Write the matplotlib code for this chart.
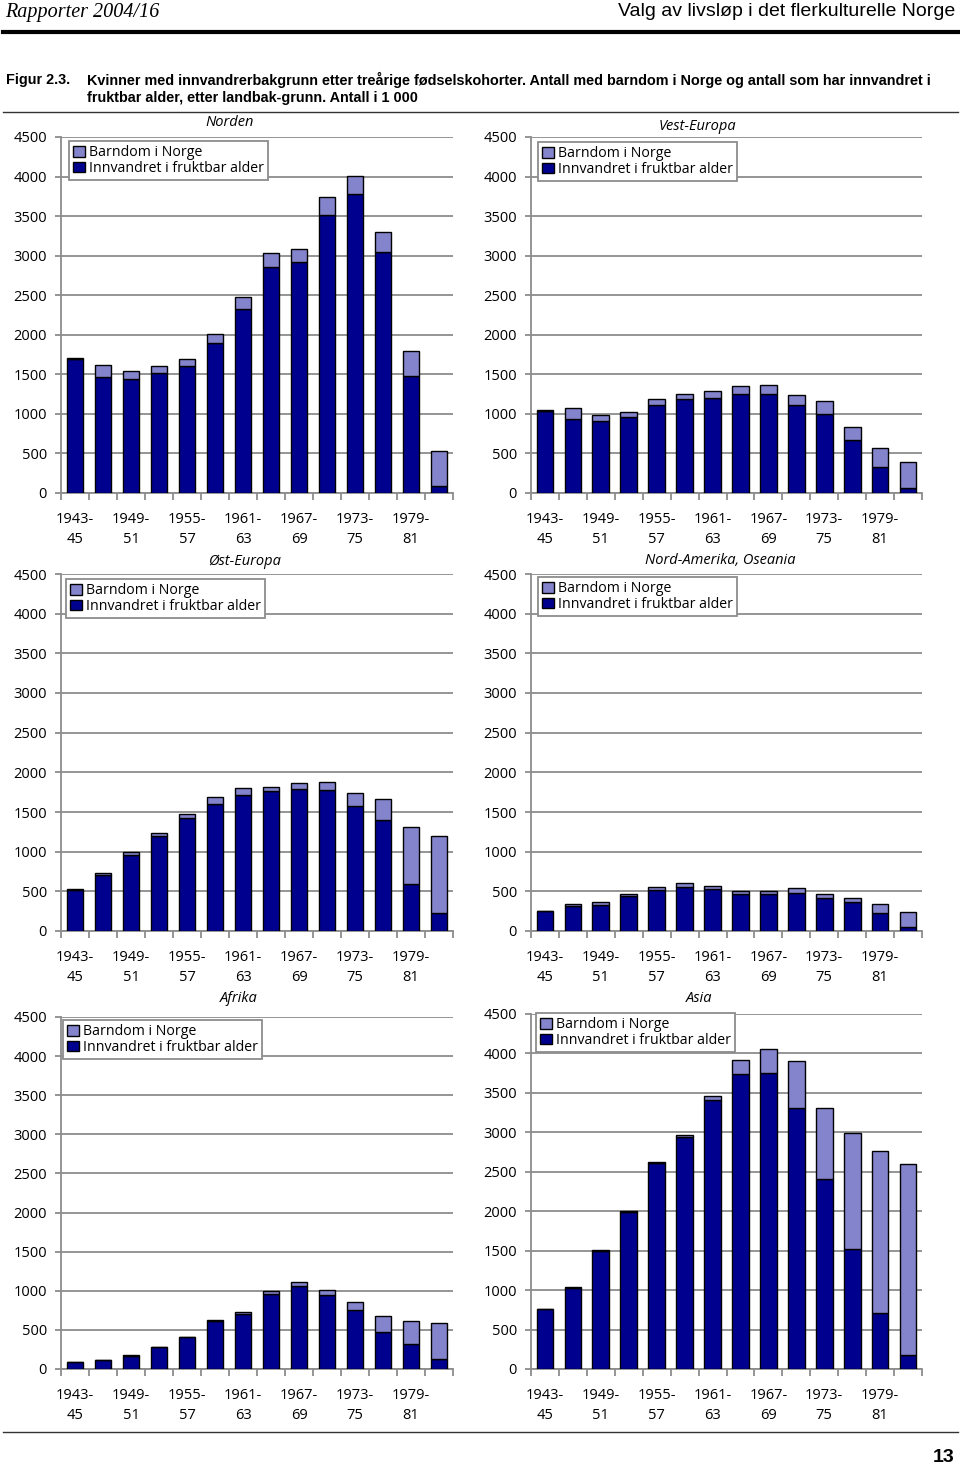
import numpy as np
import matplotlib
matplotlib.use("Agg")
import matplotlib.pyplot as plt
from matplotlib.patches import Patch
from matplotlib.lines import Line2D

plt.rcParams['font.family'] = ['Open Sans', 'DejaVu Sans']

W, H = 960, 1469

#%% data (antall i 1 000)
cohorts = ['1943-\n45', '1946-\n48', '1949-\n51', '1952-\n54', '1955-\n57', '1958-\n60',
           '1961-\n63', '1964-\n66', '1967-\n69', '1970-\n72', '1973-\n75', '1976-\n78',
           '1979-\n81', '1982-\n84']

norden_inn = [1700, 1470, 1440, 1520, 1600, 1890, 2325, 2860, 2915, 3520, 3775, 3050, 1480, 85]
norden_barn = [10, 145, 100, 80, 90, 120, 150, 180, 175, 225, 235, 250, 320, 440]

vest_inn = [1040, 940, 915, 965, 1110, 1190, 1205, 1250, 1250, 1115, 1000, 665, 325, 60]
vest_barn = [5, 140, 70, 65, 75, 65, 80, 105, 110, 125, 165, 165, 240, 335]

ost_inn = [520, 700, 960, 1195, 1430, 1595, 1710, 1760, 1785, 1775, 1570, 1400, 590, 230]
ost_barn = [5, 35, 30, 40, 50, 95, 95, 60, 85, 105, 165, 265, 720, 965]

amer_inn = [250, 310, 325, 435, 520, 560, 525, 465, 470, 485, 420, 360, 230, 45]
amer_barn = [2, 30, 35, 35, 30, 40, 45, 45, 40, 55, 45, 60, 110, 195]

afrika_inn = [85, 115, 170, 275, 410, 620, 705, 955, 1060, 950, 755, 475, 320, 125]
afrika_barn = [2, 2, 5, 5, 5, 10, 30, 45, 50, 60, 100, 200, 295, 465]

asia_inn = [760, 1030, 1500, 1995, 2615, 2940, 3410, 3740, 3750, 3305, 2405, 1520, 710, 180]
asia_barn = [2, 5, 5, 5, 10, 20, 50, 180, 300, 595, 905, 1475, 2055, 2420]

c_barn = '#8484cc'
c_inn = '#00008f'
grey = '#8c8c8c'
narrow = ['Liberation Sans', 'DejaVu Sans']

fig = plt.figure(figsize=(W / 100, H / 100), dpi=100)

# panel boxes in pixels: left, right, top (4500), bottom (0), title x, title y, legend left, legend top
panels = [
    ('Norden', norden_inn, norden_barn, 61, 453, 137, 493, 230, 123, 69, 141),
    ('Vest-Europa', vest_inn, vest_barn, 531, 922, 137, 493, 697, 126, 538, 142),
    ('Øst-Europa', ost_inn, ost_barn, 61, 453, 574, 931, 245, 562, 66, 579),
    ('Nord-Amerika, Oseania', amer_inn, amer_barn, 531, 922, 574, 931, 720, 561, 538, 577),
    ('Afrika', afrika_inn, afrika_barn, 61, 453, 1017, 1369, 239, 999, 63, 1020),
    ('Asia', asia_inn, asia_barn, 531, 922, 1014, 1369, 699, 999, 536, 1013),
]

x = np.arange(len(cohorts))
for name, inn, barn, l, r, t, b, tx, ty, lx, ly in panels:
    ax = fig.add_axes([l / W, 1 - b / H, (r - l) / W, (b - t) / H])
    ax.bar(x, inn, width=0.6, color=c_inn, edgecolor='black', linewidth=1, zorder=3)
    ax.bar(x, barn, width=0.6, bottom=inn, color=c_barn, edgecolor='black', linewidth=1, zorder=3)
    ax.set_xlim(-0.5, len(cohorts) - 0.5)
    ax.set_ylim(0, 4500)
    ax.set_yticks(np.arange(0, 4501, 500))
    ax.yaxis.grid(True, color=grey, linewidth=1.3, zorder=0)
    ax.set_axisbelow(True)
    for s in ['top', 'right']:
        ax.spines[s].set_visible(False)
    for s in ['left', 'bottom']:
        ax.spines[s].set_color(grey)
        ax.spines[s].set_linewidth(1.3)
    # category boundaries as ticks, labels on every other bar
    ax.set_xticks(np.arange(-0.5, len(cohorts), 1))
    ax.set_xticklabels([])
    ax.set_xticks(x[::2], minor=True)
    ax.set_xticklabels(cohorts[::2], minor=True, fontsize=10.5, linespacing=1.45)
    ax.tick_params(axis='x', which='major', length=5, width=1.3, color=grey, direction='out')
    ax.tick_params(axis='x', which='minor', length=0, pad=14)
    ax.tick_params(axis='y', length=4, width=1.3, color=grey, labelsize=10.5, pad=6)
    fig.text(tx / W, 1 - ty / H, name, ha='center', va='center', style='italic', fontsize=10.5)
    handles = [Patch(facecolor=c_barn, edgecolor='black', linewidth=1),
               Patch(facecolor=c_inn, edgecolor='black', linewidth=1)]
    leg = ax.legend(handles, ['Barndom i Norge', 'Innvandret i fruktbar alder'],
                    loc='upper left', bbox_to_anchor=((lx - l) / (r - l), 1 - (ly - t) / (b - t)),
                    borderaxespad=0, fancybox=False, framealpha=1, edgecolor=grey,
                    fontsize=10.2, handlelength=0.8, handleheight=0.8, handletextpad=0.3,
                    labelspacing=0.05, borderpad=0.3)
    leg.get_frame().set_linewidth(1.3)

# page header, caption and footer
fig.text(5 / W, 1 - 12 / H, 'Rapporter 2004/16', ha='left', va='center', style='italic',
         family=['Liberation Serif', 'DejaVu Serif'], fontsize=14.5)
fig.text(955 / W, 1 - 12 / H, 'Valg av livsløp i det flerkulturelle Norge', ha='right', va='center',
         family=narrow, fontsize=14)
fig.add_artist(Line2D([3 / W, 958 / W], [1 - 32 / H, 1 - 32 / H], color='black', linewidth=3))
fig.text(6 / W, 1 - 80 / H, 'Figur 2.3.', ha='left', va='center', weight='bold',
         family=narrow, fontsize=10.4)
fig.text(87 / W, 1 - 80 / H,
         'Kvinner med innvandrerbakgrunn etter treårige fødselskohorter. Antall med barndom i Norge og antall som har innvandret i',
         ha='left', va='center', weight='bold', family=narrow, fontsize=10.4)
fig.text(87 / W, 1 - 98 / H, 'fruktbar alder, etter landbak-grunn. Antall i 1 000',
         ha='left', va='center', weight='bold', family=narrow, fontsize=10.4)
fig.add_artist(Line2D([3 / W, 958 / W], [1 - 112 / H, 1 - 112 / H], color='#333333', linewidth=1))
fig.add_artist(Line2D([3 / W, 958 / W], [1 - 1432 / H, 1 - 1432 / H], color='#333333', linewidth=1))
fig.text(955 / W, 1 - 1458 / H, '13', ha='right', va='center', weight='bold',
         family=narrow, fontsize=14)

fig.savefig('out.png', dpi=100)
